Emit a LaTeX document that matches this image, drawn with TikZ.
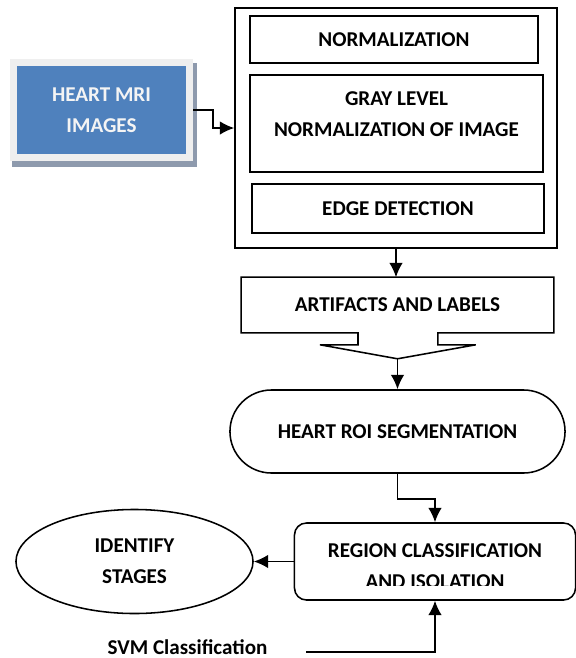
\documentclass[tikz,border=0pt]{standalone}
\usepackage{fontspec}
\setmainfont{Carlito}
\usetikzlibrary{arrows.meta,shapes.geometric,shapes.misc}
\definecolor{mriblue}{HTML}{4F81BD}
\definecolor{mriframe}{HTML}{EFEFEF}
\definecolor{mrishadow}{HTML}{8E9AAD}
\definecolor{mritext}{HTML}{F4F4F4}
\begin{document}
\begin{tikzpicture}[x=0.025cm,y=-0.025cm,line width=1.1pt,line join=miter,
  >={Latex[length=0.36cm,width=0.34cm]},
  every node/.style={font=\bfseries\fontsize{15}{22}\selectfont,align=center,inner sep=0pt},
  box/.style={draw,rectangle,minimum width=#1},
  mribox/.style={rectangle,fill=mriblue,draw=mriframe,line width=0.175cm,text=mritext,
    minimum width=4.4cm,minimum height=2.35cm},
  stadium/.style={draw,rounded rectangle,minimum width=8.375cm,minimum height=2.075cm},
  roundbox/.style={draw,rectangle,rounded corners=0.3cm,minimum width=7.025cm,minimum height=1.925cm},
  oval/.style={draw,ellipse,minimum width=5.925cm,minimum height=2.6cm}]
  \useasboundingbox (0,0) rectangle (576,658);
  % input images
  \fill[mrishadow] (12,63) rectangle (197,167);
  \node[mribox] (mri) at (101.5,110) {HEART MRI\\IMAGES};
  % preprocessing block
  \node[box=8.05cm,minimum height=6cm] (outer) at (396,128) {};
  \node[box=7.2cm,minimum height=1.175cm] (norm) at (394,39.5) {NORMALIZATION};
  \node[box=7.325cm,minimum height=2.425cm] (gray) at (396.5,123.5) {};
  \node (graytext) at ([yshift=0.225cm]gray.center) {GRAY LEVEL\\NORMALIZATION OF IMAGE};
  \node[box=7.3cm,minimum height=1.225cm] (edge) at (398,208.5) {EDGE DETECTION};
  \node[minimum width=7.775cm,minimum height=1.35cm] (artifacts) at (397.5,305) {ARTIFACTS AND LABELS};
  \coordinate (tip) at ([yshift=-0.65cm]artifacts.south);
  \draw (artifacts.south west) -- (artifacts.north west) -- (artifacts.north east)
    -- (artifacts.south east) -- ++(-116,0) -- ++(0,12) -- ++(38,0) -- (tip)
    -- ++(-77.5,-14) -- ++(38,0) -- ++(0,-12) -- cycle;
  % segmentation and classification
  \node[stadium] (roi) at (397.5,431.5) {HEART ROI SEGMENTATION};
  \node[roundbox] (region) at (435,561.5) {};
  \begin{scope}
    \clip (region.north west) rectangle ([yshift=0.375cm]region.south east);
    \node (regiontext) at ([yshift=-0.11cm]region.center) {REGION CLASSIFICATION\\AND ISOLATION};
  \end{scope}
  \node[oval] (stages) at (134.5,561.5) {IDENTIFY\\STAGES};
  \node (svm) at (187.5,647) {SVM Classification};
  \coordinate (svmline) at ([shift={(38,5)}]svm.east);
  % connectors
  \draw[->] (mri.east) -- ++(20,0) |- (outer.west);
  \draw[->] (outer.south) -- (outer.south |- artifacts.north);
  \draw[->] (tip) -- (tip |- roi.north);
  \draw[->] (roi.south) -- ++(0,25) -| (region.north);
  \draw[->] (region.west) -- (stages.east);
  \draw[->] (svmline) -| (region.south);
\end{tikzpicture}
\end{document}
